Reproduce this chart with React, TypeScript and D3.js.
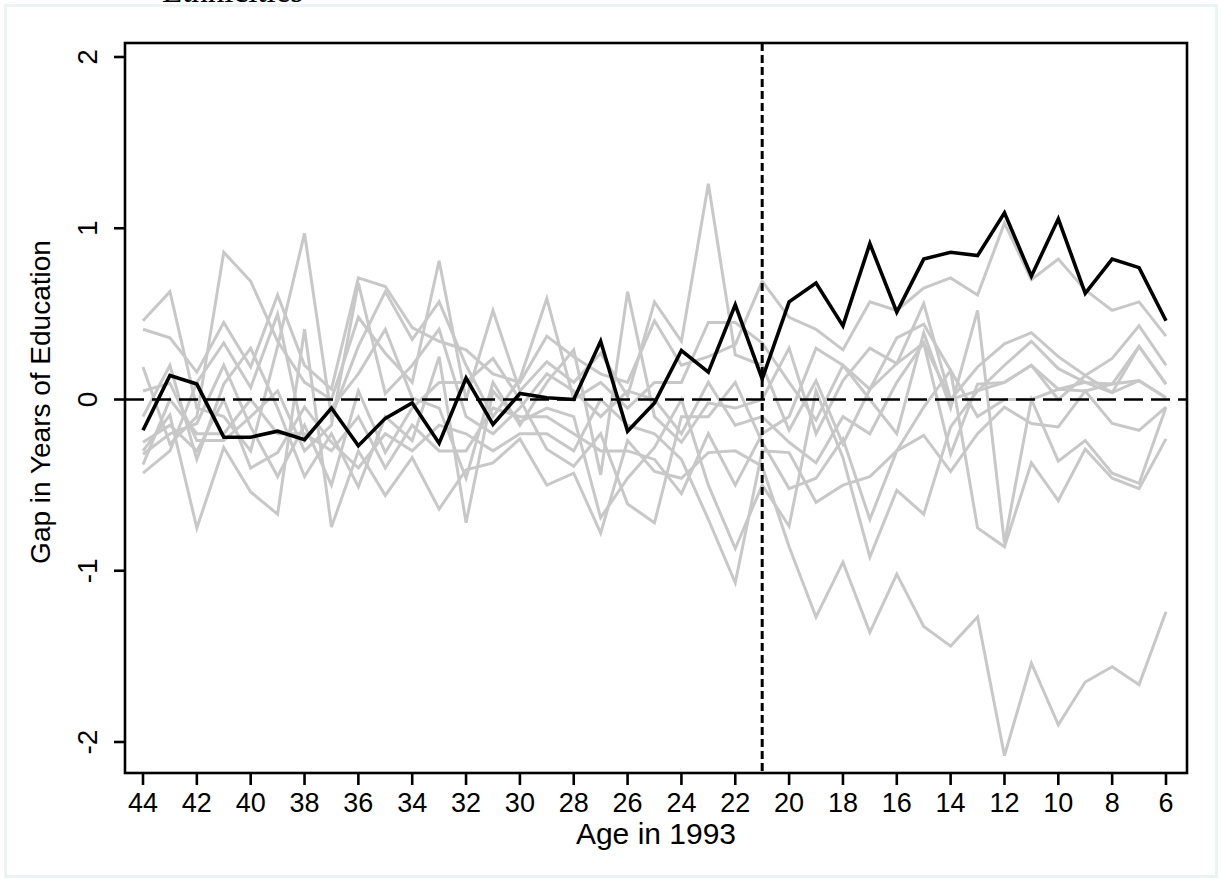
import React from "react";
import * as d3 from "d3";

const ages = [44,43,42,41,40,39,38,37,36,35,34,33,32,31,30,29,28,27,26,25,24,23,22,21,20,19,18,17,16,15,14,13,12,11,10,9,8,7,6];

const blackSeries = [-0.18,0.14,0.09,-0.22,-0.22,-0.185,-0.235,-0.05,-0.27,-0.11,-0.02,-0.255,0.125,-0.146,0.035,0.01,0.0,0.34,-0.185,-0.02,0.286,0.16,0.553,0.12,0.57,0.68,0.43,0.91,0.51,0.82,0.86,0.84,1.09,0.72,1.055,0.62,0.82,0.77,0.46];

const gray0 = [0.41,0.36,0.16,0.45,0.19,0.61,0.20,0.06,0.71,0.66,0.42,0.34,0.29,0.15,0.10,0.37,0.25,0.15,0.10,0.46,0.20,0.25,0.32,0.69,0.48,0.41,0.29,0.57,0.52,0.65,0.71,0.61,1.03,0.70,0.82,0.64,0.52,0.57,0.37];
const gray1 = [-0.30,-0.09,-0.75,-0.28,-0.54,-0.67,0.41,-0.745,-0.30,-0.56,-0.34,-0.64,-0.41,-0.37,-0.23,-0.50,-0.43,-0.78,-0.24,-0.42,-0.46,-0.31,-0.30,-0.39,-0.86,-1.27,-0.95,-1.36,-1.02,-1.325,-1.44,-1.27,-2.08,-1.54,-1.90,-1.65,-1.56,-1.665,-1.24];
const gray2 = [0.19,-0.26,-0.10,0.86,0.69,0.34,0.10,0.00,0.48,0.27,0.10,0.81,0.00,0.52,0.05,0.22,0.10,0.27,0.02,0.57,0.34,1.26,0.26,0.20,-0.18,0.11,-0.26,0.06,0.36,0.44,0.17,-0.75,-0.86,-0.37,-0.59,-0.29,-0.46,-0.52,-0.23];
const gray3 = [-0.43,-0.30,0.10,0.33,0.07,0.50,-0.24,-0.05,0.15,0.41,0.01,-0.05,-0.46,0.10,-0.15,0.10,0.29,-0.44,0.63,-0.10,-0.25,-0.02,-0.05,0.00,0.30,-0.20,0.11,0.30,0.21,0.56,0.00,0.19,0.325,0.39,0.25,0.14,0.24,0.43,0.20];
const gray4 = [0.46,0.63,-0.05,-0.10,-0.30,0.31,0.97,-0.10,0.31,0.63,0.35,0.57,0.20,-0.10,0.12,0.59,0.00,0.10,-0.05,0.10,0.10,0.45,0.45,0.33,0.10,-0.12,0.20,0.00,-0.20,0.39,-0.05,0.52,-0.84,0.00,-0.36,-0.24,-0.43,-0.49,-0.045];
const gray5 = [-0.10,0.20,-0.35,0.09,0.30,-0.05,-0.45,-0.20,-0.51,-0.10,-0.24,0.25,-0.72,0.05,-0.13,-0.05,-0.10,-0.69,-0.46,-0.28,0.00,-0.50,-0.87,-0.50,-0.74,0.05,-0.34,-0.92,-0.53,-0.67,-0.16,0.05,0.20,0.34,0.18,0.10,0.09,0.31,0.09];
const gray6 = [-0.32,-0.20,-0.14,0.20,-0.16,-0.45,-0.15,-0.50,0.05,-0.31,-0.05,0.10,0.10,0.24,0.00,-0.29,-0.39,-0.20,-0.61,-0.72,-0.10,-0.10,0.10,-0.25,-0.52,-0.46,-0.23,-0.70,-0.30,-0.21,-0.42,-0.20,-0.045,-0.14,-0.16,0.05,-0.14,-0.18,-0.045];
const gray7 = [0.05,0.095,-0.24,-0.24,-0.10,0.05,-0.30,-0.15,0.68,0.035,0.20,0.41,-0.10,-0.20,-0.05,0.15,0.05,-0.10,0.05,0.00,-0.20,0.10,-0.15,-0.10,-0.25,-0.37,-0.10,-0.20,0.10,0.33,-0.32,0.09,0.10,0.20,0.00,0.14,0.04,0.11,0.01];
const gray8 = [-0.25,-0.15,-0.30,0.00,-0.40,-0.31,-0.045,-0.25,-0.40,-0.20,-0.30,-0.15,-0.20,-0.30,-0.20,-0.20,-0.30,0.00,-0.15,-0.20,-0.35,-0.70,-1.07,-0.30,-0.31,-0.60,-0.50,-0.45,-0.30,-0.045,0.17,-0.10,0.00,0.00,0.06,0.05,0.09,0.11,0.01];
const gray9 = [-0.38,0.00,-0.20,-0.20,0.00,-0.20,-0.20,-0.30,-0.10,-0.40,-0.15,-0.30,-0.30,-0.05,-0.10,-0.10,-0.20,-0.30,-0.30,-0.35,-0.55,-0.20,-0.50,-0.20,-0.10,0.30,0.20,0.06,0.21,0.33,0.00,0.05,0.10,0.20,0.06,0.10,0.04,0.31,0.09];

const graySeries = [gray0, gray1, gray2, gray3, gray4, gray5, gray6, gray7, gray8, gray9];

const xTicks = [44,42,40,38,36,34,32,30,28,26,24,22,20,18,16,14,12,10,8,6];
const yTicks = [-2,-1,0,1,2];
const cutoffAge = 21;

const xTitle = "Age in 1993";
const yTitle = "Gap in Years of Education";
const topTitle = "Ethnicities";

export default function App() {
  const W = 1222, H = 882;
  const left = 125, right = 1187, top = 43, bottom = 773;
  const x = d3.scaleLinear().domain([44, 6]).range([143, 1166]);
  const y = d3.scaleLinear().domain([-2, 2]).range([742, 57]);
  const line = d3.line<number>().x((_, i) => x(ages[i])).y((d) => y(d));
  const font = "'Liberation Sans', Arial, Helvetica, sans-serif";

  return (
    <svg width={W} height={H} style={{ position: "absolute", left: 0, top: 0, background: "#ffffff" }}>
      <rect x={5.5} y={5.5} width={W - 11} height={H - 11} fill="#ffffff" stroke="#ebf3f3" strokeWidth={3} />
      <text x={162} y={2} fontFamily="'Liberation Serif', 'DejaVu Serif', serif" fontSize={33} fill="#000">{topTitle}</text>

      <defs>
        <clipPath id="plotclip">
          <rect x={left} y={top} width={right - left} height={bottom - top} />
        </clipPath>
      </defs>

      <g clipPath="url(#plotclip)">
        {graySeries.map((s, i) => (
          <path key={i} d={line(s) || ""} fill="none" stroke="#c8c8c8" strokeWidth={3} strokeLinejoin="miter" />
        ))}
        <line x1={left} x2={right} y1={y(0)} y2={y(0)} stroke="#000" strokeWidth={2.6} strokeDasharray="19 8" />
        <line x1={x(cutoffAge)} x2={x(cutoffAge)} y1={top} y2={bottom} stroke="#000" strokeWidth={3} strokeDasharray="8 4" />
        <path d={line(blackSeries) || ""} fill="none" stroke="#000" strokeWidth={3.6} strokeLinejoin="miter" />
      </g>

      <rect x={left} y={top} width={right - left} height={bottom - top} fill="none" stroke="#000" strokeWidth={2.6} />

      {yTicks.map((t) => (
        <g key={t}>
          <line x1={left - 11} x2={left} y1={y(t)} y2={y(t)} stroke="#000" strokeWidth={2.6} />
          <text transform={`translate(97,${y(t)}) rotate(-90)`} textAnchor="middle" fontFamily={font} fontSize={28} fill="#000">{String(t)}</text>
        </g>
      ))}

      {xTicks.map((t) => (
        <g key={t}>
          <line x1={x(t)} x2={x(t)} y1={bottom} y2={bottom + 12} stroke="#000" strokeWidth={2.6} />
          <text x={x(t)} y={812} textAnchor="middle" fontFamily={font} fontSize={27} fill="#000">{String(t)}</text>
        </g>
      ))}

      <text x={(left + right) / 2} y={844} textAnchor="middle" fontFamily={font} fontSize={30} fill="#000">{xTitle}</text>
      <text transform={`translate(50,${(top + bottom) / 2 - 6}) rotate(-90)`} textAnchor="middle" fontFamily={font} fontSize={28} fill="#000">{yTitle}</text>
    </svg>
  );
}
